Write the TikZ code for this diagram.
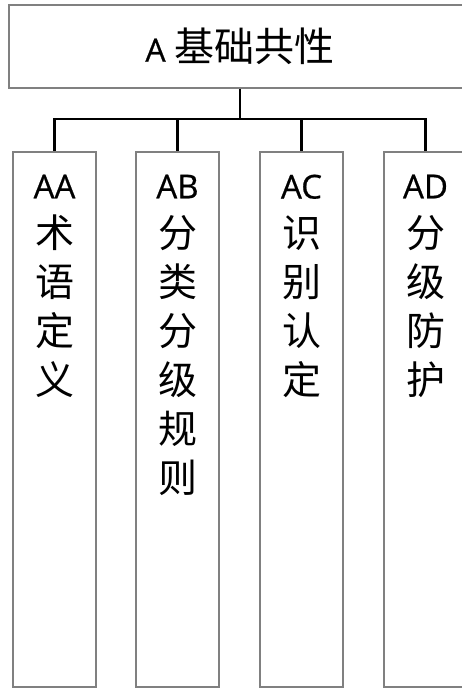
\documentclass[tikz,border=0pt]{standalone}
\usepackage{fontspec}
\setmainfont{Open Sans}
\newfontfamily\cjk{Noto Sans CJK SC}
\newfontfamily\lat[FakeBold=0.6]{Open Sans}
\usetikzlibrary{positioning}

\newcommand{\latbig}[1]{{\lat\fontsize{33}{49}\selectfont #1}}

\begin{document}
\begin{tikzpicture}[x=1pt,y=-1pt,
  box/.style={draw=black!50,line width=1.1pt,rectangle,inner sep=0pt},
  txt/.style={inner sep=0pt,align=center,font=\cjk\fontsize{39}{49}\selectfont},
  link/.style={line width=2.6pt}]
\useasboundingbox (0,0) rectangle (462,689);
\clip (0,0) rectangle (462,689);
\node[box,minimum width=462pt,minimum height=83pt] (a) at (240,46.5) {};
\node[txt,font=\cjk\fontsize{40}{49}\selectfont] (at) at (a.center) {{\lat\fontsize{32}{49}\selectfont A} 基础共性};
\node[box,minimum width=83pt,minimum height=535pt] (aa) at (54.5,419.5) {};
\node[box,minimum width=83pt,minimum height=535pt] (ab) at (177.5,419.5) {};
\node[box,minimum width=83pt,minimum height=535pt] (ac) at (301.5,419.5) {};
\node[box,minimum width=83pt,minimum height=535pt] (ad) at (425.5,419.5) {};
\node[txt,below=23pt of aa.north,anchor=north] (aat) {\latbig{AA}\\术\\语\\定\\义};
\node[txt,below=23pt of ab.north,anchor=north] (abt) {\latbig{AB}\\分\\类\\分\\级\\规\\则};
\node[txt,below=23pt of ac.north,anchor=north] (act) {\latbig{AC}\\识\\别\\认\\定};
\node[txt,below=23pt of ad.north,anchor=north] (adt) {\latbig{AD}\\分\\级\\防\\护};
\coordinate (j) at (240,119);
\draw[link] (a.south) -- (j);
\draw[link] (j) -| (aa.north);
\draw[link] (j) -| (ab.north);
\draw[link] (j) -| (ac.north);
\draw[link] (j) -| (ad.north);
\end{tikzpicture}
\end{document}
